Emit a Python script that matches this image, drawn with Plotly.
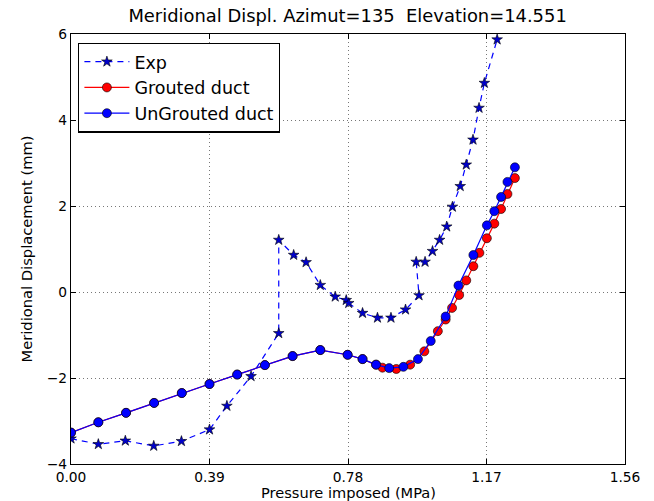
import plotly.graph_objects as go

# Experimental data
exp_x = [0.000, 0.077, 0.153, 0.233, 0.311, 0.390, 0.439, 0.507, 0.585, 0.585,
         0.627, 0.662, 0.702, 0.744, 0.775, 0.782, 0.821, 0.863, 0.901, 0.942,
         0.980, 0.972, 0.997, 1.018, 1.038, 1.058, 1.074, 1.096, 1.113, 1.132,
         1.149, 1.164, 1.200]
exp_y = [-3.41, -3.54, -3.46, -3.58, -3.47, -3.20, -2.65, -1.96, -0.96, 1.21,
         0.86, 0.69, 0.16, -0.11, -0.19, -0.26, -0.49, -0.60, -0.60, -0.41,
         -0.08, 0.70, 0.70, 0.95, 1.21, 1.52, 1.98, 2.46, 2.96, 3.54,
         4.28, 4.86, 5.87]

# Grouted duct model
grout_x = [0.000, 0.077, 0.155, 0.234, 0.312, 0.390, 0.468, 0.546, 0.624, 0.702,
           0.779, 0.821, 0.859, 0.877, 0.916, 0.955, 0.995, 1.033, 1.055, 1.073,
           1.093, 1.113, 1.133, 1.150, 1.171, 1.192, 1.211, 1.229, 1.250]
grout_y = [-3.27, -3.03, -2.81, -2.58, -2.35, -2.14, -1.92, -1.70, -1.49, -1.35,
           -1.46, -1.56, -1.69, -1.76, -1.79, -1.69, -1.38, -0.91, -0.64, -0.37,
           -0.07, 0.27, 0.60, 0.91, 1.25, 1.59, 1.93, 2.28, 2.65]

# UnGrouted duct model
ungrout_x = [0.000, 0.077, 0.155, 0.234, 0.312, 0.390, 0.468, 0.546, 0.624, 0.702,
             0.779, 0.821, 0.859, 0.896, 0.936, 0.977, 1.013, 1.055, 1.091, 1.133,
             1.171, 1.192, 1.211, 1.229, 1.250]
ungrout_y = [-3.27, -3.03, -2.81, -2.58, -2.35, -2.14, -1.92, -1.70, -1.49, -1.35,
             -1.46, -1.56, -1.69, -1.77, -1.74, -1.56, -1.14, -0.57, 0.15, 0.86,
             1.55, 1.88, 2.21, 2.56, 2.90]

x_ticks = [0.0, 0.39, 0.78, 1.17, 1.56]
x_tick_labels = ["0.00", "0.39", "0.78", "1.17", "1.56"]
y_ticks = [-4, -2, 0, 2, 4, 6]
x_title = "Pressure imposed (MPa)"
y_title = "Meridional Displacement (mm)"

FONT = "DejaVu Sans"

fig = go.Figure()
fig.add_trace(go.Scatter(
    x=exp_x, y=exp_y, name="Exp", mode="lines+markers",
    line=dict(color="#0000ff", width=1.2, dash="6px,5px"),
    marker=dict(symbol="star", size=8, color="#0000cc",
                line=dict(color="black", width=0.6)),
))
fig.add_trace(go.Scatter(
    x=grout_x, y=grout_y, name="Grouted duct", mode="lines+markers",
    line=dict(color="#ff0000", width=1.2),
    marker=dict(symbol="circle", size=9, color="#ff0000",
                line=dict(color="black", width=0.6)),
))
fig.add_trace(go.Scatter(
    x=ungrout_x, y=ungrout_y, name="UnGrouted duct", mode="lines+markers",
    line=dict(color="#0000ff", width=1.2),
    marker=dict(symbol="circle", size=9, color="#0000ff",
                line=dict(color="black", width=0.6)),
))

axis_common = dict(
    showline=True, linecolor="black", linewidth=1.2, mirror="allticks",
    ticks="inside", ticklen=5, tickcolor="black",
    showgrid=True, gridcolor="#777777", griddash="1px,3px", gridwidth=1,
    zeroline=False, automargin=False,
    tickfont=dict(family=FONT, size=13.8, color="black"),
)

fig.update_xaxes(
    range=[0, 1.56], tickvals=x_ticks, ticktext=x_tick_labels,
    **axis_common,
)
fig.update_yaxes(
    range=[-4, 6], tickvals=y_ticks,
    title=dict(text=y_title, font=dict(family=FONT, size=14.7, color="black"),
               standoff=10),
    **axis_common,
)

# x-axis title as annotation (placed just under the tick labels, as in the reference)
fig.add_annotation(
    text=x_title, xref="paper", yref="paper", x=0.5, y=-0.067,
    xanchor="center", yanchor="middle", showarrow=False,
    font=dict(family=FONT, size=14.6, color="black"),
)

fig.update_layout(
    width=654, height=501,
    margin=dict(l=70.5, r=29, t=33.5, b=36.7),
    paper_bgcolor="white", plot_bgcolor="white",
    font=dict(family=FONT, color="black"),
    title=dict(text="Meridional Displ. Azimut=135\u00a0\u00a0Elevation=14.551",
               x=0.5315, xanchor="center", y=0.968, yanchor="middle",
               font=dict(family=FONT, size=17.9, color="black")),
    legend=dict(x=0.013, y=0.98, xanchor="left", yanchor="top",
                bgcolor="white", bordercolor="black", borderwidth=1.2,
                font=dict(family=FONT, size=17.5, color="black"),
                itemwidth=45),
    showlegend=True,
)

fig.write_html("out.html")
